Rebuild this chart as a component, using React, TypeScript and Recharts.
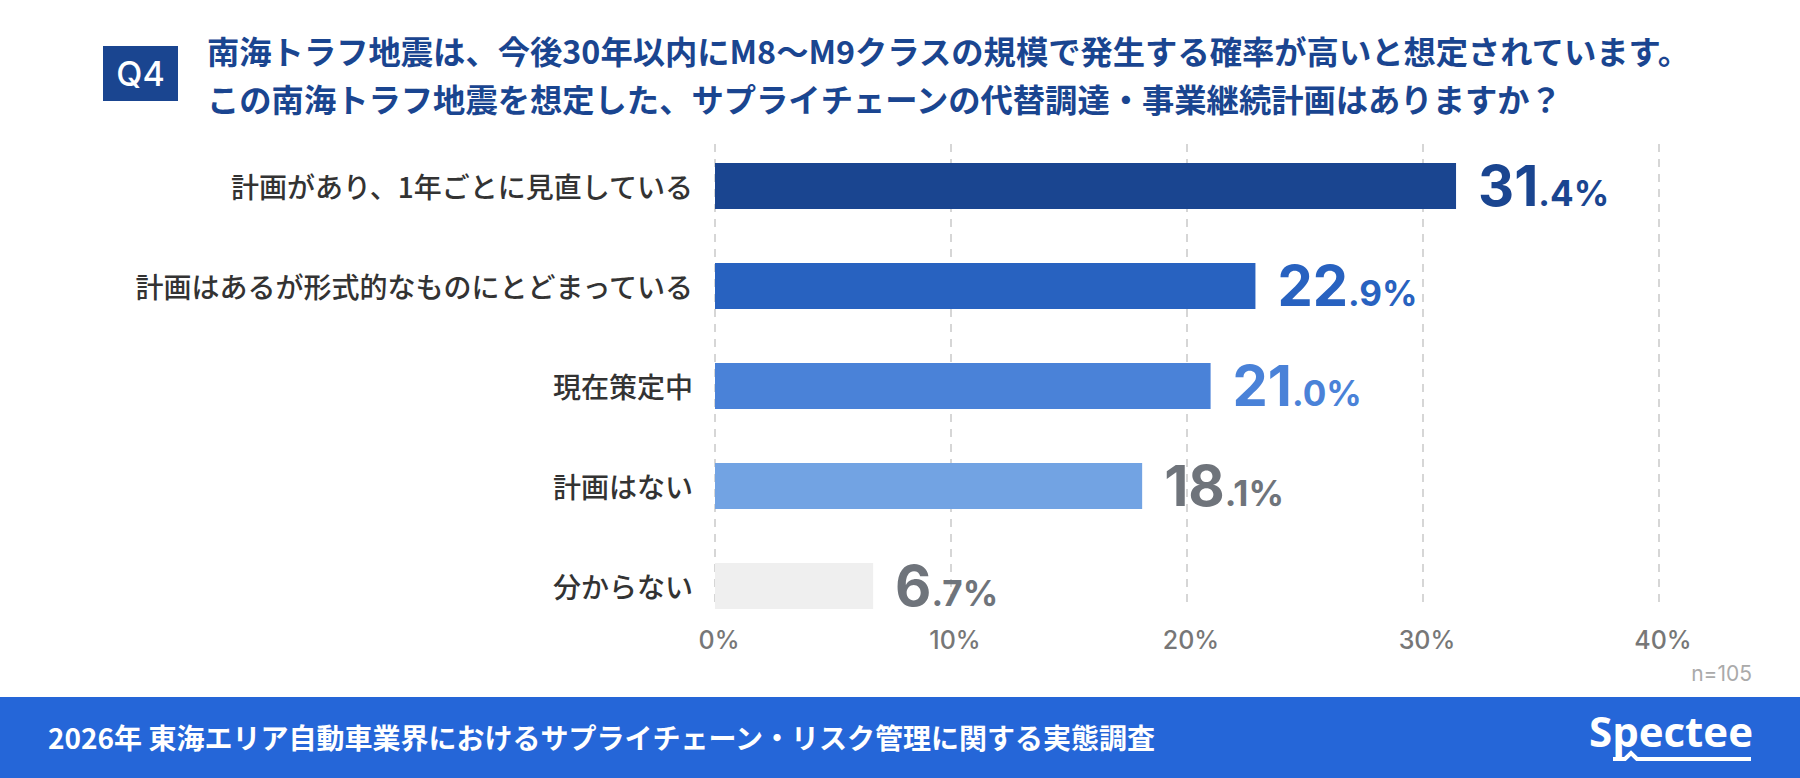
import React from "react";
import { BarChart, Bar, XAxis, YAxis, CartesianGrid, Cell, LabelList } from "recharts";

const categories = ["計画があり、1年ごとに見直している", "計画はあるが形式的なものにとどまっている", "現在策定中", "計画はない", "分からない"];
const values = [31.4, 22.9, 21.0, 18.1, 6.7];
const barColors = ["#1a4590", "#2862c0", "#4a82d8", "#72a3e3", "#efefef"];
const labelColors = ["#1a4590", "#2862c0", "#4a82d8", "#6f747b", "#6f747b"];
const xTicks = [0, 10, 20, 30, 40];

const data = categories.map((c, i) => ({ name: c, value: values[i], idx: i }));
const JP = "'Noto Sans CJK JP', 'Noto Sans', sans-serif";
const NUM = "Inter, 'Noto Sans', sans-serif";

const XTick = (p: any) => (
  <text x={p.x + 4} y={p.y - 4} textAnchor="middle" dominantBaseline="central" fill="#777" fontSize={25} fontFamily={NUM} fontWeight={500}>
    {p.payload.value}%
  </text>
);
const YTick = (p: any) => (
  <text x={p.x - 14} y={p.y} textAnchor="end" dominantBaseline="central" fill="#333" fontSize={28} fontFamily={JP} fontWeight={500}>
    {p.payload.value}
  </text>
);
const ValueLabel = (p: any) => {
  const v = Number(p.value);
  const [a, b] = v.toFixed(1).split(".");
  const col = labelColors[p.index] || "#6f747b";
  return (
    <text x={p.x + p.width + 22} y={p.y + p.height / 2 + 20} fill={col} fontFamily={NUM} fontWeight={700}>
      <tspan fontSize={56}>{a}</tspan>
      <tspan fontSize={35}>.{b}%</tspan>
    </text>
  );
};

export default function App() {
  return (
    <div style={{ position: "absolute", left: 0, top: 0, width: 1800, height: 778, background: "#fff", fontFamily: JP, overflow: "hidden" }}>
      <div style={{ position: "absolute", left: 103, top: 46, width: 75, height: 55, background: "#1a4590", color: "#fff", fontSize: 34, fontWeight: 500, display: "flex", alignItems: "center", justifyContent: "center", fontFamily: NUM }}>Q4</div>
      <div style={{ position: "absolute", left: 207, top: 26, color: "#1a4590", fontSize: 32.3, fontWeight: 700, lineHeight: "48px", whiteSpace: "nowrap" }}>
        <div>南海トラフ地震は、今後30年以内にM8～M9クラスの規模で発生する確率が高いと想定されています。</div>
        <div>この南海トラフ地震を想定した、サプライチェーンの代替調達・事業継続計画はありますか？</div>
      </div>
      <div style={{ position: "absolute", left: 0, top: 0 }}>
        <BarChart width={1800} height={778} data={data} layout="vertical" margin={{ top: 136, right: 141, bottom: 112, left: 0 }} barSize={46}>
          <CartesianGrid horizontal={false} y={144} height={464} stroke="#c9c9c9" strokeDasharray="8 7" strokeWidth={1.5} />
          <XAxis type="number" domain={[0, 40]} ticks={xTicks} axisLine={false} tickLine={false} height={30} tick={<XTick />} />
          <YAxis type="category" dataKey="name" width={715} axisLine={false} tickLine={false} tick={<YTick />} />
          <Bar dataKey="value" isAnimationActive={false}>
            {data.map((d, i) => <Cell key={i} fill={barColors[i]} />)}
            <LabelList dataKey="value" content={<ValueLabel />} />
          </Bar>
        </BarChart>
      </div>
      <div style={{ position: "absolute", right: 48, top: 660, color: "#aaa", fontSize: 21, lineHeight: "28px", fontFamily: NUM }}>n=105</div>
      <div style={{ position: "absolute", left: 0, top: 697, width: 1800, height: 81, background: "#2566d8" }}>
        <div style={{ position: "absolute", left: 48, top: 20, color: "#fff", fontSize: 28, fontWeight: 700, whiteSpace: "nowrap" }}>2026年 東海エリア自動車業界におけるサプライチェーン・リスク管理に関する実態調査</div>
        <svg style={{ position: "absolute", left: 1580, top: 8 }} width={190} height={64}>
          <text x={9} y={42} fill="#fff" fontSize={42} fontWeight={700} fontFamily="'Open Sans', sans-serif">Spectee</text>
          <path d="M33 54 H45 L51 48 L57 54 H171" stroke="#fff" strokeWidth={4} fill="none" />
        </svg>
      </div>
    </div>
  );
}
